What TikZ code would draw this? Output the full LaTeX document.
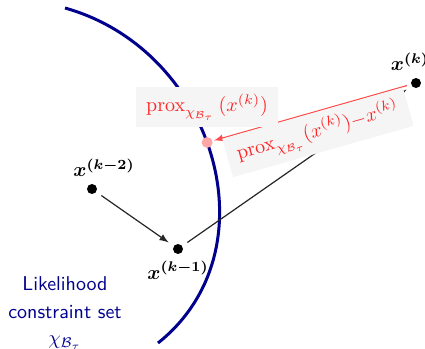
\documentclass[tikz,border=0pt]{standalone}
\usetikzlibrary{positioning}
\definecolor{setblue}{RGB}{0,0,140}
\begin{document}
\begin{tikzpicture}[>=latex, x=0.5pt, y=-0.5pt]

% --- Global TikZ Styles for Consistency ---
\tikzset{
    iterate/.style={circle, fill=black, inner sep=0pt, minimum size=5pt},
    projdot/.style={circle, fill=red!35, inner sep=0pt, minimum size=5.5pt},
    setline/.style={draw=setblue, line width=1.5pt},
    setlabel/.style={text=setblue, font=\sffamily, align=center},
    iterlabel/.style={font=\boldmath},
    proxlabel/.style={fill=black!4, text=red!85, inner xsep=5pt},
    movearrow/.style={->, draw=black!85, semithick, shorten >=3pt, shorten <=3pt},
    proxarrow/.style={->, draw=red!70, semithick, shorten <=2pt}
}

    \useasboundingbox (0,0) rectangle (425,349);
    \clip (0,0) rectangle (425,349);

    % Rand van de verzameling
    \draw[setline] (65,8) .. controls (215,50) and (275,250) .. (158,343)
        node[projdot, pos=0.465] (proj) {};
    \node[setlabel] (setname) at (65,313)
        {Likelihood\\[2pt] constraint set\\[1pt] $\chi_{\mathcal{B}_\tau}$};

    % Iteraties
    \node[iterate, label={[iterlabel, xshift=6pt]above:$x^{(k-2)}$}] (xkm2) at (92,189) {};
    \node[iterate, label={[iterlabel]below:$x^{(k-1)}$}] (xkm1) at (178,249) {};
    \node[iterate, label={[iterlabel, xshift=-3pt]above:$x^{(k)}$}] (xk) at (416,83) {};

    \draw[movearrow] (xkm2) -- (xkm1);
    \draw[movearrow] (xkm1) -- (xk);

    % Projectie
    \draw[proxarrow] (xk) -- (proj)
        node[proxlabel, sloped, below, pos=0.5]
        {$\mathrm{prox}_{\chi_{\mathcal{B}_\tau}}(x^{(k)}){-}x^{(k)}$};
    \node[proxlabel, above=4pt of proj] (proxtext)
        {$\mathrm{prox}_{\chi_{\mathcal{B}_\tau}}\,(x^{(k)})$};

\end{tikzpicture}
\end{document}
